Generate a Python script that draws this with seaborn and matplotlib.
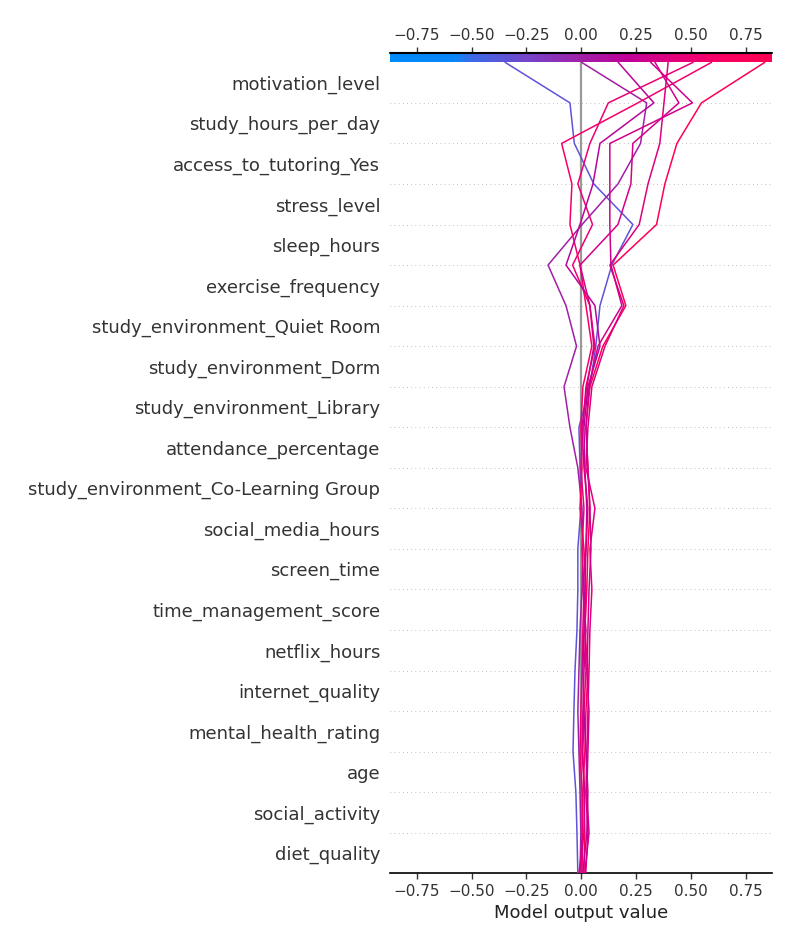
import numpy as np
import pandas as pd
import matplotlib
matplotlib.use("Agg")
import matplotlib.pyplot as plt
import seaborn as sns
from matplotlib.colors import LinearSegmentedColormap, Normalize
from matplotlib import cm

# Features, top of the plot first
features = [
    "motivation_level", "study_hours_per_day", "access_to_tutoring_Yes",
    "stress_level", "sleep_hours", "exercise_frequency",
    "study_environment_Quiet Room", "study_environment_Dorm",
    "study_environment_Library", "attendance_percentage",
    "study_environment_Co-Learning Group", "social_media_hours",
    "screen_time", "time_management_score", "netflix_hours",
    "internet_quality", "mental_health_rating", "age",
    "social_activity", "diet_quality",
]

base_value = -0.002
x_range = (-0.872, 0.869)
tick_vals = [-0.75, -0.5, -0.25, 0.0, 0.25, 0.5, 0.75]

# Model output after each feature, read from top (final output) to bottom
path_a = [-0.347, -0.051, -0.031, 0.058, 0.236, 0.140, 0.086, 0.067, 0.040, -0.010, -0.005,
          -0.001, -0.015, -0.015, -0.019, -0.028, -0.033, -0.037, -0.024, -0.019, -0.015]
path_b = [0.002, 0.299, 0.271, 0.168, 0.004, -0.151, -0.069, -0.021, -0.078, -0.051, -0.015,
          0.004, 0.008, 0.004, -0.005, -0.010, -0.015, -0.010, -0.005, -0.001, -0.005]
path_c = [0.838, 0.549, 0.437, 0.382, 0.344, 0.146, 0.204, 0.099, 0.040, 0.022, 0.031,
          0.040, 0.031, 0.026, 0.017, 0.022, 0.013, 0.008, 0.013, 0.017, 0.013]
path_d = [0.511, 0.124, 0.040, -0.015, 0.052, -0.039, 0.040, 0.063, 0.022, 0.008, -0.001,
          0.013, 0.004, 0.013, 0.008, 0.004, -0.001, -0.005, 0.004, 0.008, 0.004]
path_e = [0.595, 0.259, -0.089, -0.042, -0.051, -0.005, 0.022, 0.049, 0.008, -0.001, 0.004,
          -0.005, 0.013, 0.022, 0.017, 0.031, 0.022, 0.017, 0.008, 0.004, -0.001]
path_f = [0.397, 0.378, 0.359, 0.305, 0.265, 0.131, 0.195, 0.109, 0.049, 0.031, 0.022,
          0.063, 0.040, 0.049, 0.040, 0.036, 0.031, 0.026, 0.022, 0.031, 0.021]
path_g = [0.169, 0.332, 0.086, 0.054, -0.005, -0.069, 0.063, 0.086, 0.031, 0.013, 0.017,
          0.026, 0.022, 0.017, 0.013, 0.008, 0.013, 0.022, 0.031, 0.026, 0.008]
path_h = [0.317, 0.508, 0.131, 0.131, 0.131, 0.136, 0.186, 0.077, 0.036, 0.022, 0.031,
          0.040, 0.045, 0.036, 0.031, 0.026, 0.036, 0.031, 0.026, 0.036, 0.017]
path_i = [0.337, 0.446, 0.236, 0.227, 0.168, -0.005, 0.040, 0.058, 0.026, 0.004, 0.013,
          0.031, 0.022, 0.008, 0.022, 0.013, 0.008, 0.004, 0.017, 0.013, -0.010]

paths = [path_a, path_b, path_c, path_d, path_e, path_f, path_g, path_h, path_i]
n_feat = len(features)

# long table: level 0 = bottom of plot, level n_feat = top
rows = []
for k, p in enumerate(paths):
    for lvl, v in enumerate(p[::-1]):
        rows.append({"sample": k, "level": lvl, "value": v})
df = pd.DataFrame(rows)

cmap = LinearSegmentedColormap.from_list("red_blue", [
    (0.0, "#008bfb"), (0.17, "#0a86f6"), (0.21, "#3a6ce8"), (0.35, "#7247cc"),
    (0.5, "#a020a8"), (0.62, "#bf0098"), (0.76, "#e6007a"), (0.88, "#fb0062"),
    (1.0, "#ff0052"),
])
norm = Normalize(*x_range)
palette = {k: cmap(norm(p[0])) for k, p in enumerate(paths)}

sns.set_style("white")
plt.rcParams["font.family"] = ["DejaVu Sans"]

fig = plt.figure(figsize=(8, 9.5), dpi=100)
ax = fig.add_axes([0.4875, 0.0807, 0.477, 0.8537])

# dotted separators and base value line
for i in range(1, n_feat):
    ax.axhline(i, color="#888888", lw=0.5, dashes=(1, 5), zorder=0)
ax.axvline(base_value, color="#999999", lw=1.6, zorder=1)

sns.lineplot(data=df, x="value", y="level", hue="sample", palette=palette,
             orient="y", estimator=None, legend=False, lw=1.1, ax=ax, zorder=3)

ax.set_xlim(*x_range)
ax.set_ylim(0, n_feat)
ax.set_yticks(np.arange(n_feat) + 0.5)
ax.set_yticklabels(features[::-1])
ax.tick_params(axis="y", length=0, labelsize=13, pad=7, labelcolor="#333333")
ax.set_xticks(tick_vals)
ax.tick_params(axis="x", bottom=True, length=4, width=1, labelsize=11,
               color="#333333", labelcolor="#333333")
ax.set_xlabel("Model output value", fontsize=13, color="#222222")
ax.set_ylabel("")
for s in ["left", "top", "right"]:
    ax.spines[s].set_visible(False)
ax.spines["bottom"].set_color("black")
ax.spines["bottom"].set_linewidth(1.2)

# colour bar on top
cax = fig.add_axes([0.4875, 0.9344, 0.477, 0.0101])
sm = cm.ScalarMappable(norm=norm, cmap=cmap)
cb = fig.colorbar(sm, cax=cax, orientation="horizontal")
cb.outline.set_visible(False)
cax.xaxis.set_ticks_position("top")
cax.xaxis.set_label_position("top")
cb.set_ticks(tick_vals)
cax.tick_params(axis="x", top=True, bottom=False, length=4, width=1, labelsize=11,
                color="#333333", labelcolor="#333333", pad=3)
cax.plot([0, 1], [1, 1], transform=cax.transAxes, color="black", lw=1.5, clip_on=False)

fig.savefig("out.png", dpi=100)
